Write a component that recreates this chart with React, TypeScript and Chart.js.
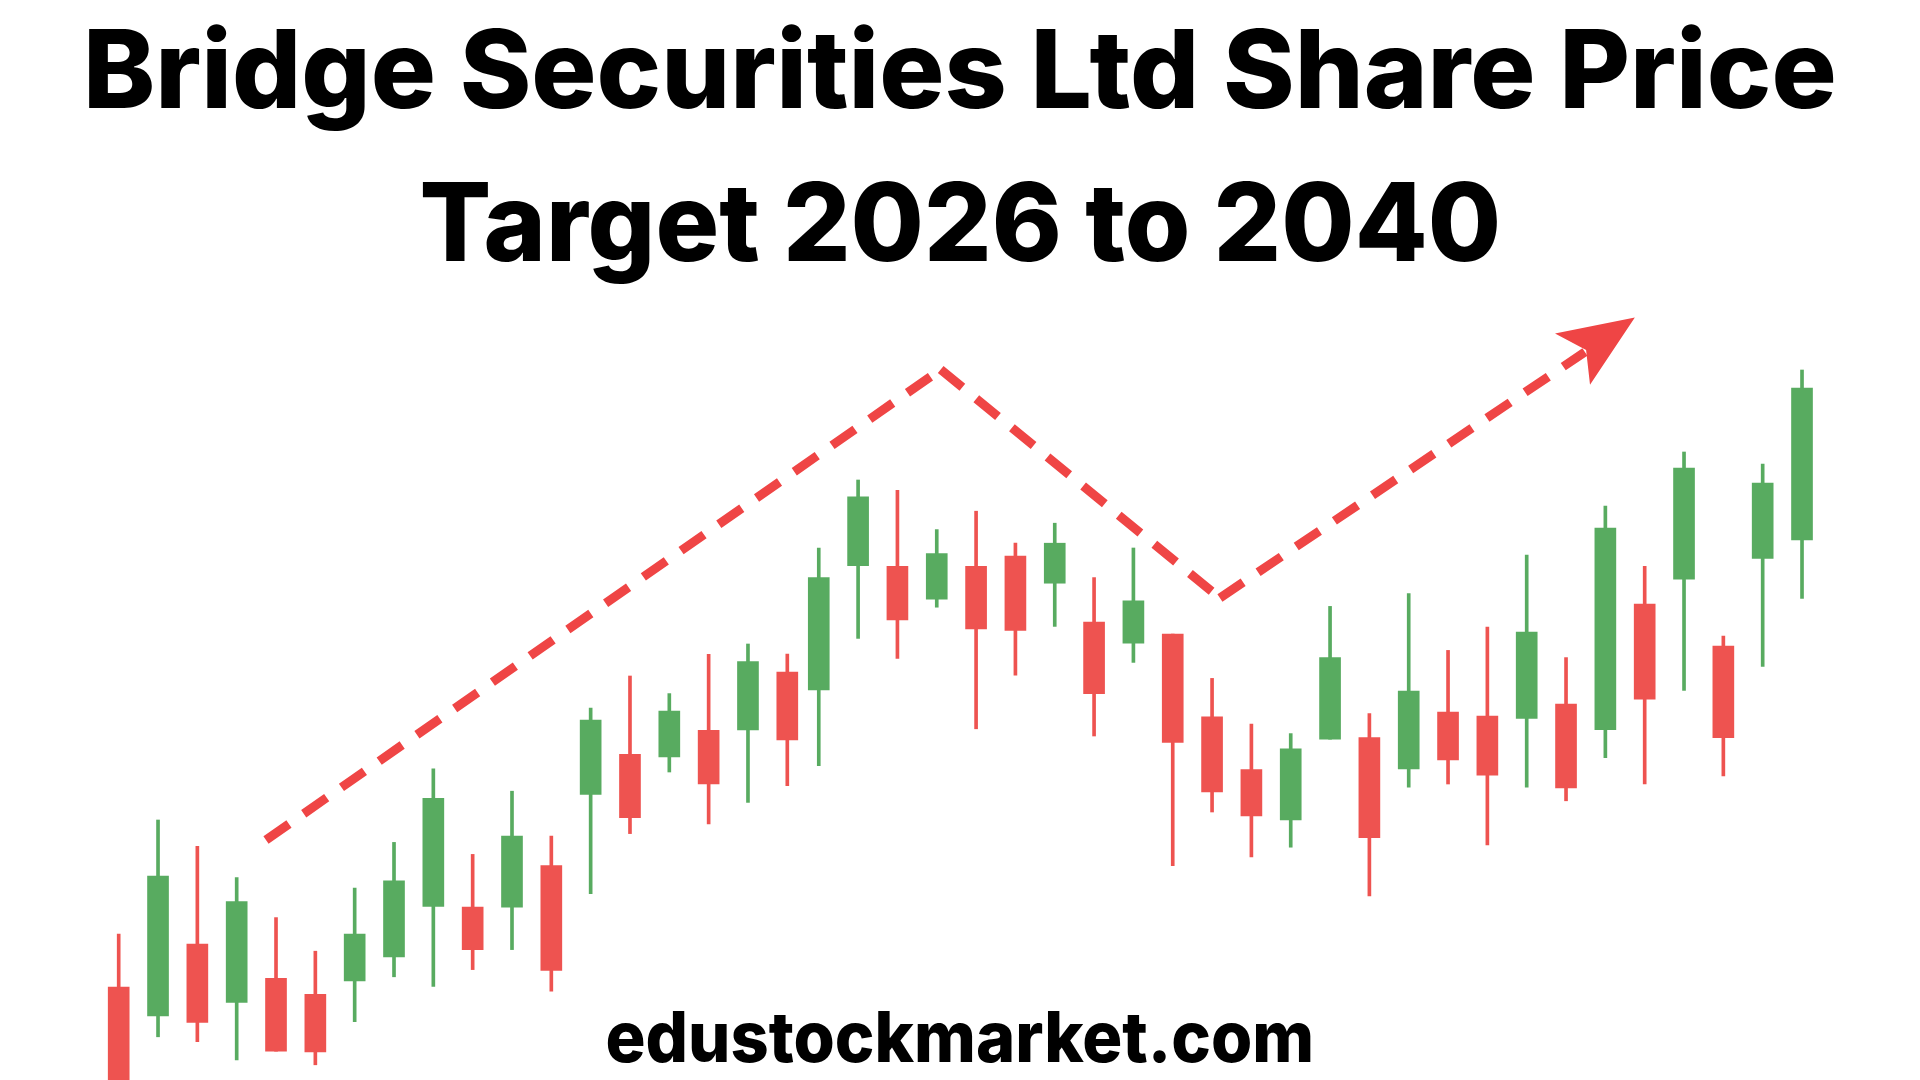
import React, { useEffect, useRef } from "react";
import { Chart, registerables } from "chart.js";

Chart.register(...registerables);

// ---- Data ----
const titleLines = ["Bridge Securities Ltd Share Price", "Target 2026 to 2040"];
const footerText = "edustockmarket.com";

// session positions (time slots)
const slots = [
  0, 1, 2, 3, 4, 5, 6, 7, 8, 9, 10, 11, 12, 13, 14, 15, 16, 17,
  17.8, 18.8, 19.8, 20.8, 21.8, 22.8, 23.8, 24.8, 25.8, 26.8, 27.8, 28.8, 29.8,
  30.8, 31.8, 32.8, 33.8, 34.8, 35.8, 36.8, 37.8, 38.8, 39.8, 40.8, 41.8, 42.8,
];
const opens = [
  11.6, 8.0, 17.0, 9.7, 12.7, 10.7, 12.4, 15.4, 21.7, 21.6, 21.6, 26.8, 35.7, 40.7, 40.4,
  43.7, 43.75, 51.0, 48.75, 64.3, 64.2, 60.1, 64.2, 65.5, 62.1, 57.25, 54.6, 55.75, 45.4,
  38.8, 32.5, 42.6, 42.8, 38.9, 46.0, 45.5, 45.2, 47.0, 43.8, 59.5, 62.6, 54.25, 65.2, 67.5,
];
const closes = [
  -1.25, 25.5, 7.2, 22.3, 3.6, 3.5, 18.25, 24.9, 35.2, 16.3, 30.5, 13.7, 45.0, 32.8, 46.1,
  37.0, 52.3, 42.5, 62.8, 72.9, 57.5, 65.8, 56.4, 56.2, 67.1, 48.3, 59.9, 42.2, 36.0,
  33.0, 41.4, 52.8, 30.3, 48.6, 40.0, 38.1, 56.0, 36.5, 69.0, 47.6, 76.5, 42.8, 74.6, 86.5,
];
const highs = [
  18.25, 32.5, 29.2, 25.3, 20.3, 16.1, 24.0, 29.7, 38.9, 28.2, 36.1, 30.5, 46.5, 50.5, 48.3,
  53.2, 54.5, 53.25, 66.5, 75.0, 73.7, 68.8, 71.1, 67.1, 69.6, 62.8, 66.5, 55.75, 50.2,
  44.5, 43.3, 59.2, 45.8, 60.8, 53.7, 56.6, 65.6, 52.8, 71.75, 64.2, 78.5, 55.5, 77.0, 88.75,
];
const lows = [
  -2.5, 5.4, 4.8, 2.5, 3.6, 1.9, 7.3, 12.9, 11.7, 13.8, 16.3, 11.1, 23.3, 30.8, 38.5,
  32.0, 34.7, 36.8, 39.3, 55.2, 52.7, 59.1, 43.9, 50.6, 56.7, 43.0, 52.2, 26.8, 33.5,
  27.9, 29.1, 42.6, 23.0, 36.6, 37.0, 29.4, 36.6, 34.9, 40.3, 37.0, 48.7, 38.0, 51.7, 60.2,
];

// dashed trend path (start, peak, valley, arrow)
const trendX = [3.745, 20.9, 28.0, 37.28];
const trendY = [30.0, 88.8, 60.25, 91.0];
// arrow head polygon (tip, left wing, notch, lower wing)
const arrowX = [38.55, 36.52, 37.31, 37.41];
const arrowY = [95.3, 93.3, 91.25, 86.9];

const GREEN = "#58ab60";
const RED = "#ee5350";
const LINE_RED = "#ef4545";

const arrowHeadPlugin = {
  id: "arrowHead",
  afterDatasetsDraw(chart: any) {
    const { ctx, scales } = chart;
    const xs = scales.x;
    const ys = scales.y;
    ctx.save();
    ctx.fillStyle = LINE_RED;
    ctx.beginPath();
    arrowX.forEach((v, i) => {
      const px = xs.getPixelForValue(v);
      const py = ys.getPixelForValue(arrowY[i]);
      if (i === 0) ctx.moveTo(px, py);
      else ctx.lineTo(px, py);
    });
    ctx.closePath();
    ctx.fill();
    ctx.restore();
  },
};

export default function App() {
  const canvasRef = useRef<HTMLCanvasElement | null>(null);
  const l1 = useRef<HTMLSpanElement | null>(null);
  const l2 = useRef<HTMLSpanElement | null>(null);
  const ft = useRef<HTMLSpanElement | null>(null);

  useEffect(() => {
    const fits: [HTMLSpanElement | null, number][] = [
      [l1.current, 1754],
      [l2.current, 1082],
      [ft.current, 709],
    ];
    fits.forEach(([el, target]) => {
      if (!el) return;
      const w = el.offsetWidth;
      if (w > 0) el.style.transform = `scaleX(${target / w})`;
    });

    const colors = opens.map((o, i) => (closes[i] >= o ? GREEN : RED));
    const wickData = slots.map((x, i) => ({ x, y: [lows[i], highs[i]] }));
    const bodyData = slots.map((x, i) => ({ x, y: [opens[i], closes[i]] }));

    // each leg of the trend is dashed on its own, so every leg starts with a dash
    const trendSets = trendX.slice(0, -1).map((x, i) => ({
      type: "line",
      data: [
        { x, y: trendY[i] },
        { x: trendX[i + 1], y: trendY[i + 1] },
      ],
      borderColor: LINE_RED,
      borderWidth: 9,
      borderDash: [28, 18],
      borderCapStyle: "butt",
      pointRadius: 0,
      tension: 0,
      fill: false,
      order: 1,
    }));

    const chart = new Chart(canvasRef.current as HTMLCanvasElement, {
      type: "bar",
      data: {
        datasets: [
          {
            type: "bar",
            data: wickData as any,
            backgroundColor: colors,
            barThickness: 3,
            grouped: false,
            borderWidth: 0,
            order: 3,
          } as any,
          {
            type: "bar",
            data: bodyData as any,
            backgroundColor: colors,
            barThickness: 21,
            grouped: false,
            borderWidth: 0,
            order: 2,
          } as any,
          ...(trendSets as any[]),
        ],
      },
      options: {
        responsive: false,
        animation: false,
        devicePixelRatio: 1,
        layout: { padding: 0 },
        plugins: {
          legend: { display: false },
          tooltip: { enabled: false },
          title: { display: false },
        },
        scales: {
          x: { type: "linear", min: -3.018, max: 45.8, display: false, offset: false },
          y: { type: "linear", min: 0, max: 135, display: false },
        },
      },
      plugins: [arrowHeadPlugin],
    });
    return () => chart.destroy();
  }, []);

  const textBase: React.CSSProperties = {
    position: "absolute",
    left: 0,
    width: 1920,
    textAlign: "center",
    fontFamily: "Inter, 'Open Sans', sans-serif",
    color: "#000",
    whiteSpace: "nowrap",
  };
  const spanStyle: React.CSSProperties = {
    display: "inline-block",
    transformOrigin: "center",
  };

  return (
    <div
      style={{
        position: "fixed",
        left: 0,
        top: 0,
        width: 1920,
        height: 1080,
        background: "#ffffff",
        overflow: "hidden",
      }}
    >
      <canvas
        ref={canvasRef}
        width={1920}
        height={1080}
        style={{ position: "absolute", left: 0, top: 0, width: 1920, height: 1080 }}
      />
      <div style={{ ...textBase, top: 15, fontSize: 108, lineHeight: "108px", fontWeight: 800 }}>
        <span ref={l1} style={spanStyle}>{titleLines[0]}</span>
      </div>
      <div style={{ ...textBase, top: 168, fontSize: 108, lineHeight: "108px", fontWeight: 800 }}>
        <span ref={l2} style={spanStyle}>{titleLines[1]}</span>
      </div>
      <div style={{ ...textBase, top: 1002, fontSize: 70, lineHeight: "70px", fontWeight: 800 }}>
        <span ref={ft} style={spanStyle}>{footerText}</span>
      </div>
    </div>
  );
}
